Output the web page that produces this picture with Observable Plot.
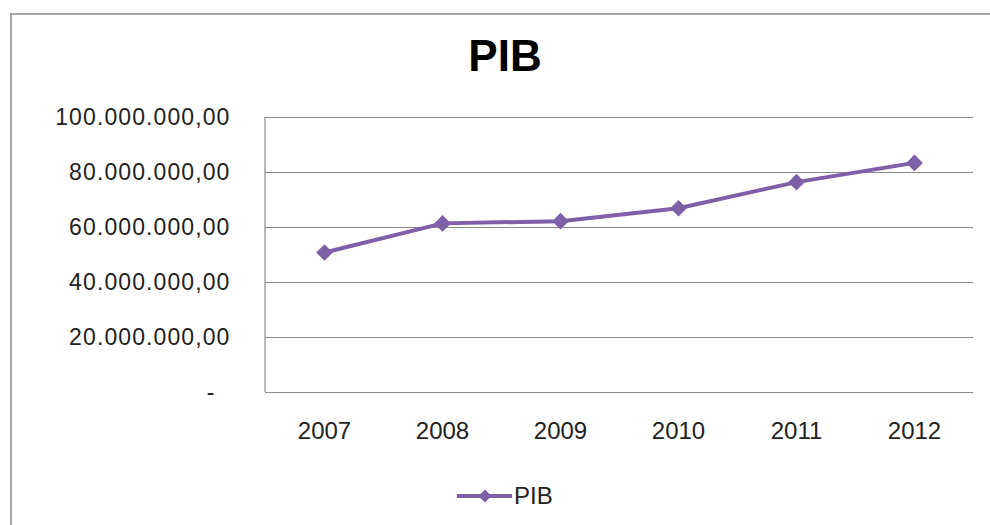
<!DOCTYPE html>
<html>
<head>
<meta charset="utf-8">
<script src="https://cdn.jsdelivr.net/npm/d3@7"></script>
<script src="https://cdn.jsdelivr.net/npm/@observablehq/plot@0.6"></script>
<style>
  html, body { margin: 0; padding: 0; background: #fff; }
  #wrap { position: relative; width: 990px; height: 525px; overflow: hidden; font-family: "Liberation Sans", Arial, sans-serif; }
  #border { position: absolute; left: 10px; top: 13px; width: 2000px; height: 2000px; border-left: 2px solid #a6a6a6; border-top: 2px solid #a6a6a6; box-sizing: border-box; }
  #title { position: absolute; left: 0; width: 1010px; top: 28px; text-align: center; font-size: 44px; font-weight: bold; color: #000; line-height: 56px; }
  #chart { position: absolute; left: 0; top: 0; }
  #legend { position: absolute; left: 455px; top: 482px; display: flex; align-items: center; font-size: 24px; color: #222; }
  #legend svg { display: block; }
</style>
</head>
<body>
<div id="wrap">
  <div id="border"></div>
  <div id="chart"></div>
  <div id="title"></div>
  <div id="legend"></div>
</div>
<script>
const titleText = "PIB";
const seriesName = "PIB";
const years = ["2007", "2008", "2009", "2010", "2011", "2012"];
const pib = [50900000, 61500000, 62300000, 67000000, 76500000, 83500000];
const yTicks = [0, 20000000, 40000000, 60000000, 80000000, 100000000];

const lineColor = "#7d60a8";
const gridColor = "#8a8a8a";
const textColor = "#222";

const data = years.map((y, i) => ({year: y, value: pib[i]}));

const loc = d3.formatLocale({decimal: ",", thousands: ".", grouping: [3], currency: ["", ""]});
const fmt = loc.format(",.2f");
const yFormat = v => v === 0 ? "-\u00a0\u00a0" : fmt(v);

// left axis line of the plot area, drawn from the chart's own dimensions and y scale
function leftAxisLine(index, scales, values, dimensions) {
  const [y0, y1] = scales.y.range ? [scales.y(0), scales.y(100000000)] : [0, 0];
  const g = d3.create("svg:g");
  g.append("line")
    .attr("x1", dimensions.marginLeft).attr("x2", dimensions.marginLeft)
    .attr("y1", y0).attr("y2", y1)
    .attr("stroke", gridColor).attr("stroke-width", 1.2);
  return g.node();
}

const chart = Plot.plot({
  width: 990,
  height: 525,
  marginLeft: 265,
  marginRight: 17,
  marginTop: 117,
  marginBottom: 133,
  style: {fontFamily: "'Liberation Sans', Arial, sans-serif", background: "transparent", color: textColor},
  x: {type: "point", domain: years, padding: 0.5, label: null},
  y: {domain: [0, 100000000], label: null},
  marks: [
    Plot.ruleY(yTicks, {stroke: gridColor, strokeWidth: 1.2}),
    leftAxisLine,
    Plot.axisY({ticks: yTicks, tickFormat: yFormat, tickSize: 0, tickPadding: 35, fontSize: 23, label: null, fill: textColor}),
    Plot.axisX({tickSize: 0, tickPadding: 29, fontSize: 24, label: null, fill: textColor}),
    Plot.line(data, {x: "year", y: "value", stroke: lineColor, strokeWidth: 4}),
    Plot.dot(data, {x: "year", y: "value", symbol: "diamond2", r: 7.5, fill: lineColor, stroke: "none"})
  ]
});
chart.querySelectorAll("g[aria-label='y-axis tick label'] text, g[aria-label='y-axis tick label']").forEach(t => t.setAttribute("letter-spacing", "1.1"));
document.getElementById("chart").appendChild(chart);

document.getElementById("title").textContent = titleText;

const leg = document.getElementById("legend");
const sw = d3.create("svg").attr("width", 58).attr("height", 26);
sw.append("line").attr("x1", 2).attr("x2", 57).attr("y1", 13).attr("y2", 13).attr("stroke", lineColor).attr("stroke-width", 4);
sw.append("path").attr("d", d3.symbol(d3.symbolDiamond2, 110)()).attr("transform", "translate(30,13)").attr("fill", lineColor);
leg.appendChild(sw.node());
const lt = document.createElement("span");
lt.textContent = seriesName;
lt.style.marginLeft = "1px";
leg.appendChild(lt);
</script>
</body>
</html>
